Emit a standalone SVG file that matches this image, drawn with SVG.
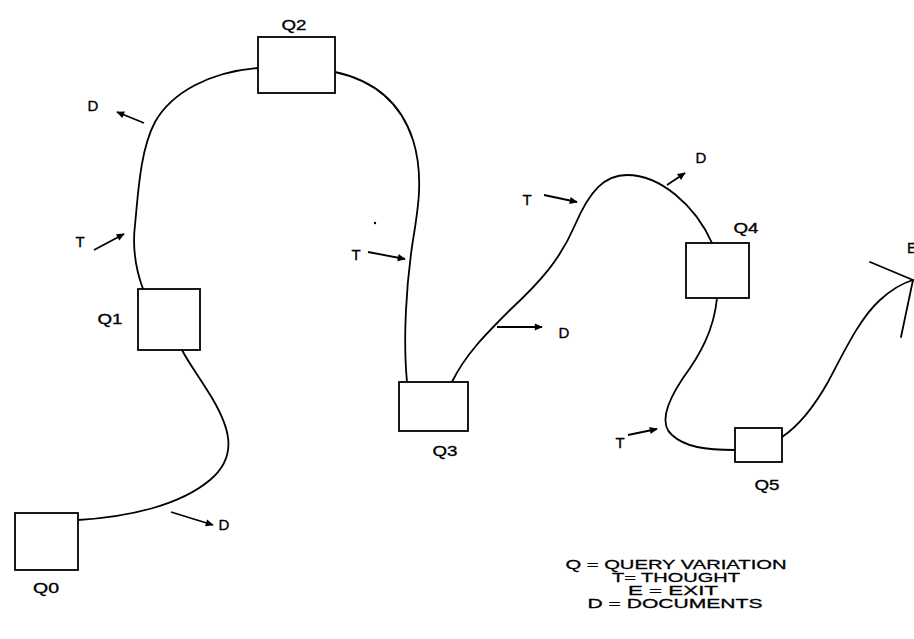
<svg xmlns="http://www.w3.org/2000/svg" width="914" height="639" viewBox="0 0 914 639">
<style>
.box{fill:#fff;stroke:#000;stroke-width:1.8}
.curve{fill:none;stroke:#000;stroke-width:1.8;stroke-linecap:round}
.arr{fill:none;stroke:#000;stroke-width:1.8;marker-end:url(#ah)}
.lbl{font-family:"Liberation Sans",Arial,sans-serif;font-size:15px;fill:#000;stroke:#000;stroke-width:0.35;text-anchor:middle}
.leg{font-family:"Liberation Sans",Arial,sans-serif;font-size:13.5px;fill:#000;stroke:#000;stroke-width:0.3;text-anchor:middle}
</style>
<defs>
<marker id="ah" viewBox="0 0 10 10" refX="9" refY="5" markerWidth="11" markerHeight="8" markerUnits="userSpaceOnUse" orient="auto">
<path d="M0,0.5 L10,5 L0,9.5 z" fill="#000"/>
</marker>
</defs>
<rect width="914" height="639" fill="#fff"/>
<g id="connectors">
<path class="curve" d="M78,520 C130,517 180,505 210,480 C240,455 228,425 212,398 C200,378 188,362 182,350"/>
<path class="curve" d="M143,289 C136,270 132,250 135,225 C138,195 140,150 155,122 C172,92 210,72 258,68"/>
<path class="curve" d="M335,72 C372,80 400,100 413,140 C424,175 418,210 413,240 C406,285 403,340 407,382"/>
<path class="curve" d="M452,382 C465,355 485,335 510,310 C540,282 560,260 575,225 C590,190 605,175 627,175 C660,175 695,205 712,243"/>
<path class="curve" d="M717,298 C714,330 700,355 683,378 C665,405 660,425 672,435 C685,447 705,450 735,450"/>
<path class="curve" d="M782,437 C800,425 815,405 828,382 C845,350 860,318 880,300 C892,289 903,283 913,280"/>
<path class="curve" d="M870,262 L913,280 L901,337"/>
<line class="arr" x1="144" y1="123" x2="117" y2="112"/>
<line class="arr" x1="94" y1="250" x2="124" y2="234"/>
<line class="arr" x1="171" y1="512" x2="213" y2="525"/>
<line class="arr" x1="368" y1="252" x2="405" y2="259"/>
<line class="arr" x1="497" y1="327" x2="542" y2="327"/>
<line class="arr" x1="544" y1="195" x2="577" y2="202"/>
<line class="arr" x1="667" y1="185" x2="685" y2="173"/>
<line class="arr" x1="628" y1="435" x2="657" y2="429"/>
<text class="lbl" x="93" y="111">D</text>
<text class="lbl" x="80" y="247">T</text>
<text class="lbl" x="224" y="530">D</text>
<text class="lbl" x="356" y="260">T</text>
<text class="lbl" x="527" y="205">T</text>
<text class="lbl" x="701" y="163">D</text>
<text class="lbl" x="564" y="338">D</text>
<text class="lbl" x="620" y="448">T</text>
<text class="lbl" x="907" y="253" style="text-anchor:start">E</text>
<circle cx="375" cy="223" r="1.2" fill="#000"/>
</g>
<g id="Q0"><rect class="box" x="15" y="513" width="63" height="57"/><text class="lbl" x="46" y="593" textLength="26" lengthAdjust="spacingAndGlyphs">Q0</text></g>
<g id="Q1"><rect class="box" x="138" y="289" width="62" height="61"/><text class="lbl" x="110" y="324" textLength="25" lengthAdjust="spacingAndGlyphs">Q1</text></g>
<g id="Q2"><rect class="box" x="258" y="37" width="77" height="56"/><text class="lbl" x="294" y="30" textLength="25" lengthAdjust="spacingAndGlyphs">Q2</text></g>
<g id="Q3"><rect class="box" x="399" y="382" width="69" height="49"/><text class="lbl" x="445" y="456" textLength="25" lengthAdjust="spacingAndGlyphs">Q3</text></g>
<g id="Q4"><rect class="box" x="686" y="243" width="63" height="55"/><text class="lbl" x="746" y="233" textLength="25" lengthAdjust="spacingAndGlyphs">Q4</text></g>
<g id="Q5"><rect class="box" x="735" y="428" width="47" height="34"/><text class="lbl" x="767" y="490" textLength="25" lengthAdjust="spacingAndGlyphs">Q5</text></g>
<g id="legend">
<text class="leg" x="676" y="569" textLength="221" lengthAdjust="spacingAndGlyphs">Q = QUERY VARIATION</text>
<text class="leg" x="676" y="582" textLength="128" lengthAdjust="spacingAndGlyphs">T= THOUGHT</text>
<text class="leg" x="673" y="595" textLength="90" lengthAdjust="spacingAndGlyphs">E = EXIT</text>
<text class="leg" x="675" y="608" textLength="175" lengthAdjust="spacingAndGlyphs">D = DOCUMENTS</text>
</g>
</svg>
